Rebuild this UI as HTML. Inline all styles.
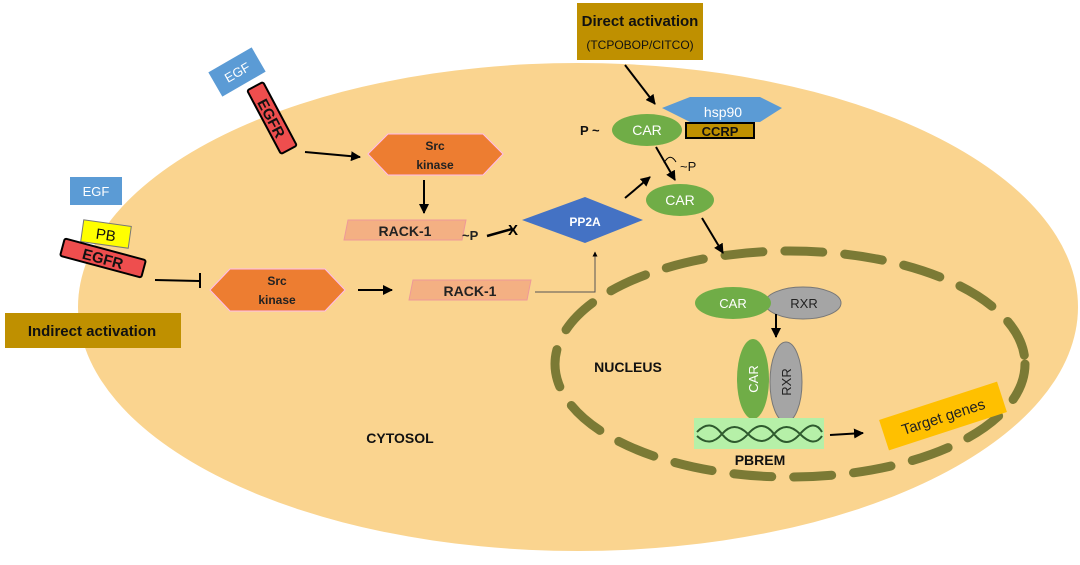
<!DOCTYPE html>
<html><head><meta charset="utf-8"><style>
html,body{margin:0;padding:0;background:#fff;width:1080px;height:565px;overflow:hidden}
text{font-family:"Liberation Sans",sans-serif}
</style></head><body>
<svg width="1080" height="565" viewBox="0 0 1080 565" xmlns="http://www.w3.org/2000/svg">
<defs>
<marker id="a" viewBox="0 0 10 10" refX="9" refY="5" markerWidth="5" markerHeight="5" orient="auto"><path d="M0,0L10,5L0,10z" fill="#000"/></marker>
</defs>
<ellipse cx="578" cy="307" rx="500" ry="244" fill="#fad48f"/>
<ellipse cx="790" cy="364" rx="235" ry="113" fill="none" stroke="#7b7a35" stroke-width="9" stroke-linecap="round" stroke-dasharray="38 22"/>

<g transform="translate(237,72) rotate(-30)"><rect x="-25" y="-14" width="50" height="28" fill="#5b9bd5"/><text x="0" y="5" font-size="13" fill="#fff" text-anchor="middle">EGF</text></g>
<g transform="translate(272,118) rotate(62)"><rect x="-36" y="-9" width="72" height="18" fill="#ee4e4e" stroke="#000" stroke-width="2" rx="2"/><text x="0" y="6" font-size="15" font-weight="bold" fill="#111" text-anchor="middle">EGFR</text></g>
<line x1="305" y1="152" x2="360" y2="157" stroke="#000" stroke-width="2" marker-end="url(#a)"/>

<rect x="70" y="177" width="52" height="28" fill="#5b9bd5"/><text x="96" y="196" font-size="13" fill="#fff" text-anchor="middle">EGF</text>
<g transform="translate(106,234) rotate(8)"><rect x="-24" y="-11" width="48" height="22" fill="#ffff00" stroke="#777" stroke-width="1"/><text x="0" y="6" font-size="15" fill="#111" text-anchor="middle">PB</text></g>
<g transform="translate(103,258) rotate(15)"><rect x="-42" y="-9" width="84" height="18" fill="#ee4e4e" stroke="#000" stroke-width="2" rx="2"/><text x="0" y="6" font-size="15" font-weight="bold" fill="#111" text-anchor="middle">EGFR</text></g>
<line x1="155" y1="280" x2="199" y2="281" stroke="#000" stroke-width="2"/><line x1="200" y1="273" x2="200" y2="288" stroke="#000" stroke-width="2"/>

<rect x="5" y="313" width="176" height="35" fill="#bf9000"/>
<text x="92" y="336" font-size="15" font-weight="bold" fill="#111" text-anchor="middle">Indirect activation</text>

<polygon points="210,290 230,269 325,269 345,290 325,311 230,311" fill="#ed7d31" stroke="#fbe" stroke-width="1"/>
<text x="277" y="285" font-size="12" font-weight="bold" fill="#222" text-anchor="middle">Src</text>
<text x="277" y="304" font-size="12" font-weight="bold" fill="#222" text-anchor="middle">kinase</text>
<line x1="358" y1="290" x2="392" y2="290" stroke="#000" stroke-width="2" marker-end="url(#a)"/>
<polygon points="368,154 388,134 483,134 503,154 483,175 388,175" fill="#ed7d31" stroke="#fbe" stroke-width="1"/>
<text x="435" y="150" font-size="12" font-weight="bold" fill="#222" text-anchor="middle">Src</text>
<text x="435" y="169" font-size="12" font-weight="bold" fill="#222" text-anchor="middle">kinase</text>
<line x1="424" y1="180" x2="424" y2="213" stroke="#000" stroke-width="2" marker-end="url(#a)"/>

<polygon points="348,220 466,220 462,240 344,240" fill="#f4b083" stroke="#e99" stroke-width="1"/>
<text x="405" y="236" font-size="14" font-weight="bold" fill="#222" text-anchor="middle">RACK-1</text>
<text x="462" y="240" font-size="13" font-weight="bold" fill="#222">~P</text>
<line x1="487" y1="236" x2="512" y2="229" stroke="#000" stroke-width="2.5"/>
<text x="508" y="235" font-size="15" font-weight="bold" fill="#000">X</text>
<polygon points="413,280 531,280 527,300 409,300" fill="#f4b083" stroke="#e99" stroke-width="1"/>
<text x="470" y="296" font-size="14" font-weight="bold" fill="#222" text-anchor="middle">RACK-1</text>
<polyline points="535,292 595,292 595,252" fill="none" stroke="#555" stroke-width="1" marker-end="url(#a)"/>

<polygon points="522,220 585,197 643,220 585,243" fill="#4472c4"/>
<text x="585" y="226" font-size="12" font-weight="bold" fill="#fff" text-anchor="middle">PP2A</text>
<line x1="625" y1="198" x2="650" y2="177" stroke="#000" stroke-width="2" marker-end="url(#a)"/>

<rect x="577" y="3" width="126" height="57" fill="#bf9000"/>
<text x="640" y="26" font-size="15" font-weight="bold" fill="#111" text-anchor="middle">Direct activation</text>
<text x="640" y="49" font-size="12" fill="#111" text-anchor="middle">(TCPOBOP/CITCO)</text>
<line x1="625" y1="65" x2="655" y2="104" stroke="#000" stroke-width="2" marker-end="url(#a)"/>

<polygon points="662,108 690,97 760,97 782,108 760,122 690,122" fill="#5b9bd5"/>
<text x="723" y="117" font-size="14" fill="#fff" text-anchor="middle">hsp90</text>
<rect x="686" y="123" width="68" height="15" fill="#bf9000" stroke="#000" stroke-width="2"/>
<text x="720" y="136" font-size="13" font-weight="bold" fill="#111" text-anchor="middle">CCRP</text>
<ellipse cx="647" cy="130" rx="35" ry="16" fill="#70ad47"/>
<text x="647" y="135" font-size="14" fill="#fff" text-anchor="middle">CAR</text>
<text x="580" y="135" font-size="13" font-weight="bold" fill="#111">P ~</text>
<line x1="656" y1="147" x2="675" y2="180" stroke="#000" stroke-width="2" marker-end="url(#a)"/>
<path d="M664,163 Q670,152 676,162" fill="none" stroke="#000" stroke-width="1"/>
<text x="680" y="171" font-size="13" fill="#111">~P</text>
<ellipse cx="680" cy="200" rx="34" ry="16" fill="#70ad47"/>
<text x="680" y="205" font-size="14" fill="#fff" text-anchor="middle">CAR</text>
<line x1="702" y1="218" x2="723" y2="253" stroke="#000" stroke-width="2" marker-end="url(#a)"/>

<text x="628" y="372" font-size="14" font-weight="bold" fill="#111" text-anchor="middle">NUCLEUS</text>
<ellipse cx="803" cy="303" rx="38" ry="16" fill="#a5a5a5" stroke="#777"/>
<text x="804" y="308" font-size="13" fill="#222" text-anchor="middle">RXR</text>
<ellipse cx="733" cy="303" rx="38" ry="16" fill="#70ad47"/>
<text x="733" y="308" font-size="13" fill="#fff" text-anchor="middle">CAR</text>
<line x1="776" y1="314" x2="776" y2="337" stroke="#000" stroke-width="2" marker-end="url(#a)"/>
<ellipse cx="786" cy="382" rx="16" ry="40" fill="#a5a5a5" stroke="#777"/>
<text transform="translate(791,382) rotate(-90)" font-size="13" fill="#222" text-anchor="middle">RXR</text>
<ellipse cx="753" cy="379" rx="16" ry="40" fill="#70ad47"/>
<text transform="translate(758,379) rotate(-90)" font-size="13" fill="#fff" text-anchor="middle">CAR</text>
<rect x="694" y="418" width="130" height="31" fill="#b6f0a8"/>
<path d="M697,432 Q710,418 722,434 T748,434 T774,434 T800,434 T822,432 M697,436 Q710,448 722,434 T748,434 T774,434 T800,434 T822,436" fill="none" stroke="#2e5a2e" stroke-width="2"/>
<text x="760" y="465" font-size="14" font-weight="bold" fill="#111" text-anchor="middle">PBREM</text>
<line x1="830" y1="435" x2="863" y2="433" stroke="#000" stroke-width="2" marker-end="url(#a)"/>
<g transform="translate(943,416) rotate(-18)"><rect x="-62" y="-16" width="124" height="32" fill="#ffc000"/><text x="0" y="6" font-size="15" fill="#222" text-anchor="middle">Target genes</text></g>

<text x="400" y="443" font-size="14" font-weight="bold" fill="#111" text-anchor="middle">CYTOSOL</text>
</svg>
</body></html>
